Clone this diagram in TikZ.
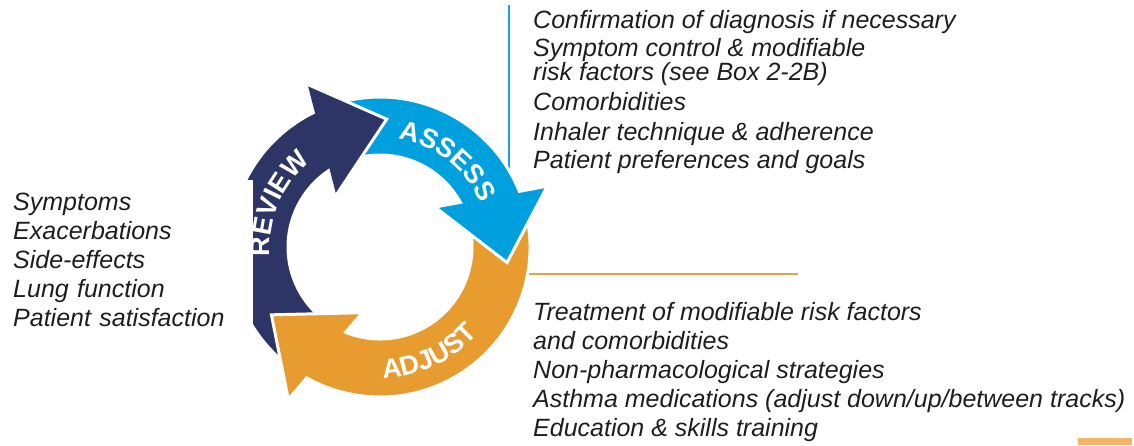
\documentclass[tikz,border=0pt]{standalone}
\usepackage{fontspec}
\setmainfont{Liberation Sans}
\usetikzlibrary{calc,decorations.text}

\definecolor{reviewnavy}{HTML}{2D3567}
\definecolor{assessblue}{HTML}{00A0DF}
\definecolor{adjustorange}{HTML}{E89B2F}
\definecolor{lineblue}{HTML}{1DA3E0}
\definecolor{lineorange}{HTML}{F0A040}
\definecolor{tabsand}{HTML}{F4B666}
\definecolor{inktext}{HTML}{1E1E1E}

% Curved ring arrow around the origin: #1 = tail angle, #2 = tip angle
% (travel is clockwise, so #2 < #1). Ring radii 92..150.
\newcommand{\ringarrow}[2]{%
  (#1:150) arc[start angle=#1, end angle={#2+28.77}, radius=150]
  -- ({#2+27}:178) -- (#2:128) -- ({#2+43}:68) -- ({#2+36.06}:92)
  arc[start angle={#2+36.06}, end angle=#1, radius=92] -- cycle}
% Arrow head triangle only
\newcommand{\ringhead}[1]{({#1+27}:178) -- (#1:128) -- ({#1+43}:68)}

\tikzset{
  ringpart/.style={draw=white, line width=3pt, line join=miter},
  listtext/.style={font=\itshape\fontsize{25}{29}\selectfont, align=left,
    inner sep=0pt, text=inktext},
  ringlabel/.style={decorate, decoration={text along path, text align=center,
    text={|\color{white}\bfseries\fontsize{27}{27}\selectfont|#1}}}
}

\begin{document}
\begin{tikzpicture}[x=1pt, y=1pt]
  \useasboundingbox (0,0) rectangle (1134,-445);

  % leader lines
  \coordinate (bluetop) at (509,-5);
  \coordinate (bluefoot) at (509,-200);
  \coordinate (orangestart) at (500,-274);
  \coordinate (orangeend) at (798,-274);
  \draw[lineblue, line width=2pt] (bluetop) -- (bluefoot);
  \draw[lineorange, line width=2pt] (orangestart) -- (orangeend);

  % the cycle of three arrows
  \begin{scope}[shift={(380,-247)}]
    \fill[reviewnavy, ringpart] \ringarrow{-123}{-273};
    \fill[adjustorange, ringpart] \ringarrow{-342}{-508};
    \fill[assessblue, ringpart] \ringarrow{-248}{-367};
    % review head sits above the assess tail
    \fill[reviewnavy] \ringhead{-273} -- cycle;
    \draw[white, line width=3pt, line join=miter] \ringhead{-273};

    \path[ringlabel=ASSESS] (92:110) arc[start angle=92, end angle=12, radius=110];
    \path[ringlabel=REVIEW] (-163:110) arc[start angle=-163, end angle=-243, radius=110];
    \path[ringlabel=ADJUST] (-105:131) arc[start angle=-105, end angle=-25, radius=131];
  \end{scope}

  % review items
  \node[listtext, fill=white, anchor=north west, text width=240pt,
        minimum height=160pt] (reviewitems) at (13,-180)
    {Symptoms\\ Exacerbations\\ Side-effects\\ Lung function\\ Patient satisfaction};

  % assess items (anchored on the last line)
  \node[listtext, anchor=base west] (assessitems) at (533,-168)
    {Confirmation of diagnosis if necessary\\[-1pt]
     Symptom control \& modifiable\\[-5pt]
     risk factors (see Box 2-2B)\\[1pt]
     Comorbidities\\[1pt]
     Inhaler technique \& adherence\\[-1pt]
     Patient preferences and goals};

  % adjust items (anchored on the last line)
  \node[listtext, anchor=base west] (adjustitems) at (533,-436)
    {Treatment of modifiable risk factors\\
     and comorbidities\\
     Non-pharmacological strategies\\
     Asthma medications (adjust down/up/between tracks)\\
     Education \& skills training};

  % corner tab
  \fill[tabsand] (1078,-438) rectangle (1132,-445);
\end{tikzpicture}
\end{document}
